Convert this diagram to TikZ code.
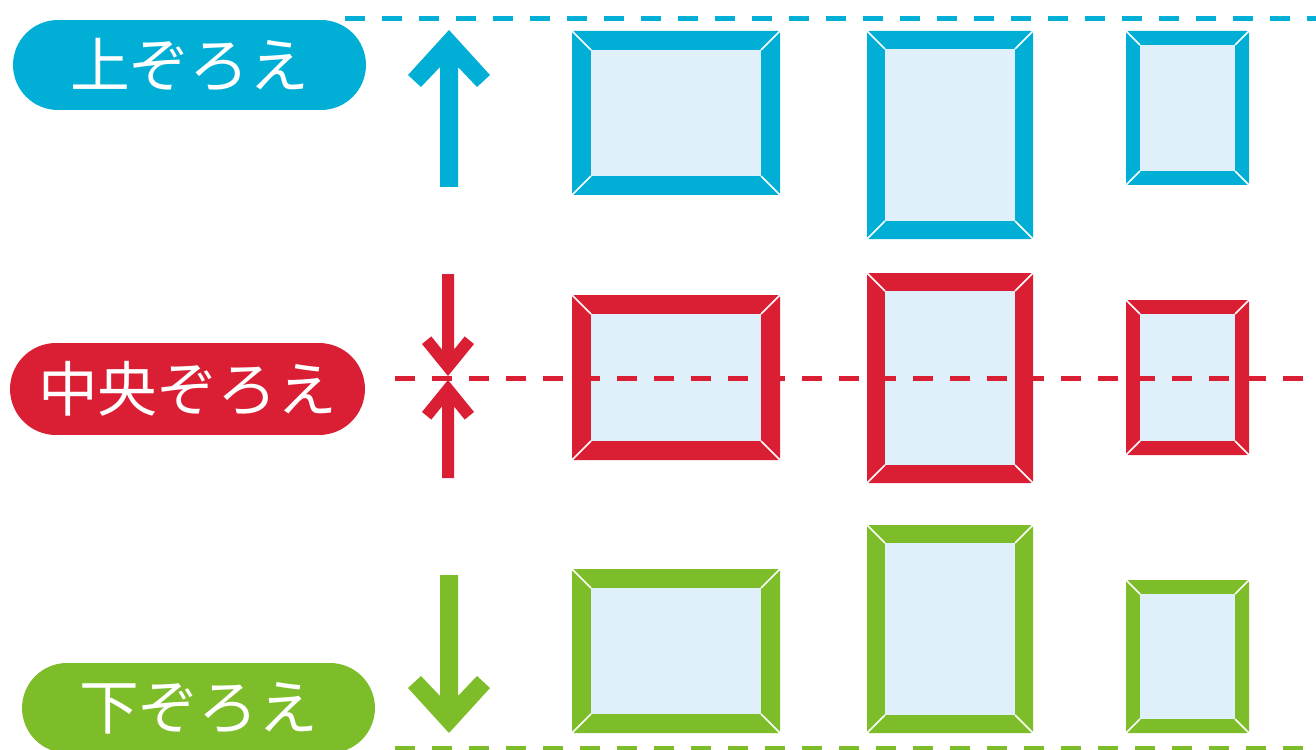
\documentclass[tikz,border=0pt]{standalone}
\usepackage{fontspec}
\newfontfamily\jpfont{Noto Sans CJK JP}
\definecolor{cblue}{HTML}{00AED6}
\definecolor{cred}{HTML}{DA1F35}
\definecolor{cgreen}{HTML}{7DBD2A}
\definecolor{innerfill}{HTML}{DFF0FA}
\tikzset{
  pill/.style={fill=#1, rounded corners=0.9cm, minimum width=7.06cm, minimum height=1.8cm,
    text=white, font=\jpfont\fontsize{34pt}{34pt}\selectfont, inner sep=0pt},
  guide/.style={draw=#1, line width=0.1cm, dash pattern=on 0.4cm off 0.34cm},
  bevel/.style={draw=white, line width=0.85pt}
}
\newcommand{\pictframe}[6]{%
  \fill[#1, rounded corners=1pt] (#2,#3) rectangle (#4,#5);
  \fill[innerfill] ({#2+#6},{#3+#6}) rectangle ({#4-#6},{#5-#6});
  \draw[bevel] (#2,#3) -- ({#2+#6},{#3+#6});
  \draw[bevel] (#4,#3) -- ({#4-#6},{#3+#6});
  \draw[bevel] (#2,#5) -- ({#2+#6},{#5-#6});
  \draw[bevel] (#4,#5) -- ({#4-#6},{#5-#6});
}
\begin{document}
\begin{tikzpicture}[x=0.02cm,y=-0.02cm]
\useasboundingbox (0,0) rectangle (1316,750);
\clip (0,0) rectangle (1316,750);

% frames: top row (blue)
\pictframe{cblue}{572}{31}{780}{195}{19}
\pictframe{cblue}{867}{31}{1033}{239}{18}
\pictframe{cblue}{1126}{31}{1249}{185}{14}
% middle row (red)
\pictframe{cred}{572}{295}{780}{460}{19}
\pictframe{cred}{867}{273}{1033}{483}{18}
\pictframe{cred}{1126}{300}{1249}{455}{14}
% bottom row (green)
\pictframe{cgreen}{572}{569}{780}{733}{19}
\pictframe{cgreen}{867}{525}{1033}{733}{18}
\pictframe{cgreen}{1126}{580}{1249}{733}{14}

% guide lines
\coordinate (tl) at (345,19);  \coordinate (tr) at (1316,19);
\coordinate (ml) at (395,378); \coordinate (mr) at (1316,378);
\coordinate (bl) at (395,748); \coordinate (br) at (1316,748);
\draw[guide=cblue] (tl) -- (tr);
\draw[guide=cred] (ml) -- (mr);
\draw[guide=cgreen] (bl) -- (br);

% arrows
\fill[cblue] (449,30) -- (490,75) -- (477,87) -- (458,67) -- (458,187) -- (440,187) -- (440,67) -- (421,87) -- (408,75) -- cycle;
\fill[cgreen] (449,733) -- (490,688) -- (477,676) -- (458,696) -- (458,575) -- (440,575) -- (440,696) -- (421,676) -- (408,688) -- cycle;
\fill[cred] (448,376) -- (474,344) -- (464.7,336.4) -- (454,349.6) -- (454,274) -- (442,274) -- (442,349.6) -- (431.3,336.4) -- (422,344) -- cycle;
\fill[cred] (448,380) -- (474,412) -- (464.7,419.6) -- (454,406.4) -- (454,478) -- (442,478) -- (442,406.4) -- (431.3,419.6) -- (422,412) -- cycle;

% labels
\node[pill=cblue] (top) at (189.5,65) {上ぞろえ};
\node[pill=cred, minimum width=7.1cm, minimum height=1.84cm, rounded corners=0.92cm] (mid) at (187.5,389) {中央ぞろえ};
\node[pill=cgreen] (bot) at (198.5,708) {下ぞろえ};
\end{tikzpicture}
\end{document}
